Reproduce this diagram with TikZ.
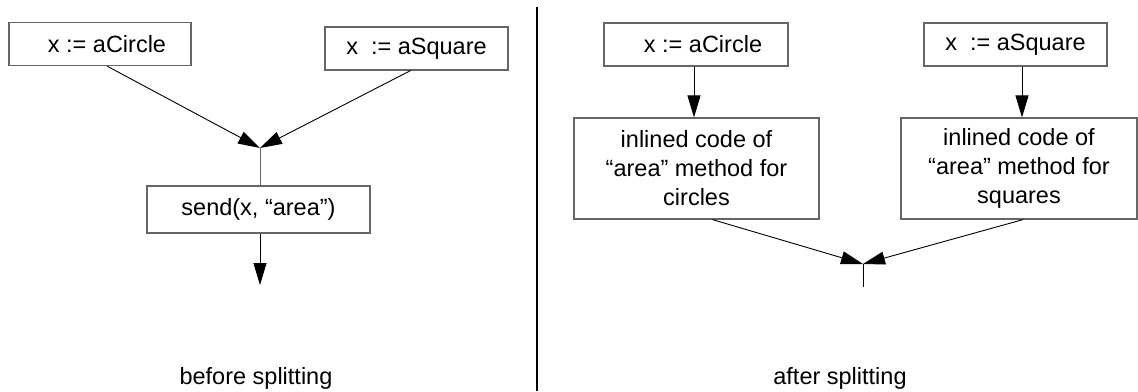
\documentclass[tikz,border=0pt]{standalone}
\usepackage{fontspec}
\setmainfont{Liberation Sans}
\usetikzlibrary{arrows.meta,calc}
\begin{document}
\begin{tikzpicture}[x=1pt,y=-1pt,
  box/.style={draw=black!60,line width=1.2pt,rectangle,inner sep=0pt,align=center,
    font=\fontsize{23.5}{29}\selectfont},
  conn/.style={draw=black,line width=0.9pt},
  arr/.style={conn,-{Triangle[length=22pt,width=13pt]}},
  captext/.style={font=\fontsize{23.5}{29}\selectfont}]
\useasboundingbox (0,0) rectangle (1138,391);
% left
\node[box,minimum width=182pt,minimum height=43pt] (A) at (100,44) {\hspace*{14pt}x := aCircle};
\node[box,minimum width=183pt,minimum height=43pt] (B) at (416.5,48.5) {x\ \ := aSquare};
\node[box,minimum width=223pt,minimum height=47pt] (S) at (258.5,209.5) {send(x, “area”)};
\coordinate (m1) at (260,148);
\coordinate (e1) at (260,285);
\draw[arr] ([xshift=7pt]A.south) -- (m1);
\draw[arr] ([xshift=-6pt]B.south) -- (m1);
\draw[conn,draw=black!60] (m1) -- (m1 |- S.north);
\draw[arr] (e1 |- S.south) -- (e1);
% divider
\coordinate (d1) at (537,7);
\coordinate (d2) at (537,391);
\draw[line width=2.5pt] (d1) -- (d2);
% right
\node[box,minimum width=184pt,minimum height=43pt] (C) at (696,44.5) {\hspace*{14pt}x := aCircle};
\node[box,minimum width=245pt,minimum height=101pt] (D) at (696.5,168.5) {inlined code of\\“area” method for\\circles};
\node[box,minimum width=183pt,minimum height=43pt] (E) at (1015.5,44.5) {x\ \ := aSquare};
\node[box,minimum width=236pt,minimum height=101pt] (F) at (1019,168.5) {inlined code of\\“area” method for\\squares};
\draw[arr] ([xshift=-2pt]C.south) -- ([xshift=-2.5pt]D.north);
\draw[arr] ([xshift=6.5pt]E.south) -- ([xshift=3pt]F.north);
\coordinate (m2) at (863,264);
\coordinate (e2) at (863,287);
\draw[arr] ([xshift=16pt]D.south) -- (m2);
\draw[arr] ([xshift=4pt]F.south) -- (m2);
\draw[conn] (m2) -- (e2);
% captions
\node[captext] (c1) at (256,378) {before splitting};
\node[captext] (c2) at (840,378) {after splitting};
\end{tikzpicture}
\end{document}
